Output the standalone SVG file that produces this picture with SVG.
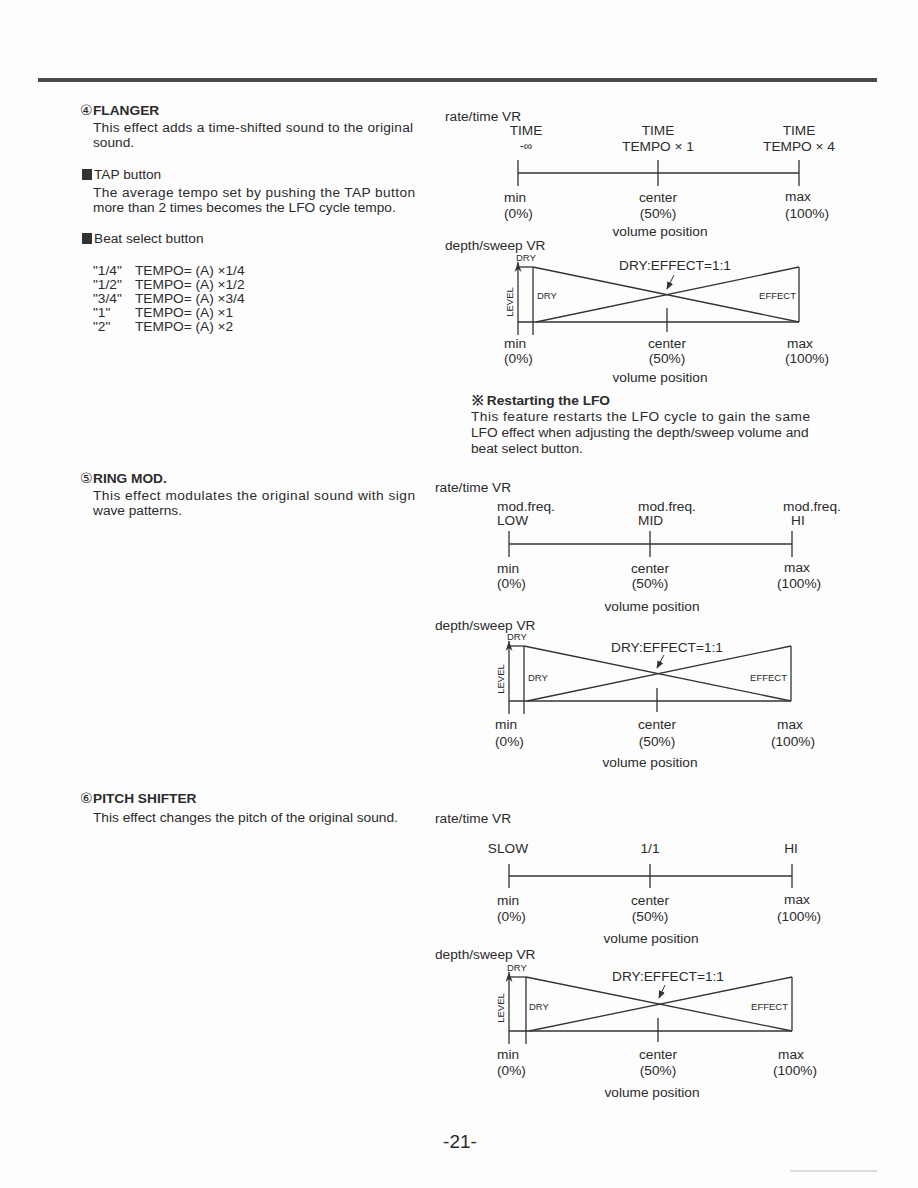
<svg xmlns="http://www.w3.org/2000/svg" width="918" height="1188" viewBox="0 0 918 1188">
<style>
.t{font-family:"Liberation Sans",Arial,sans-serif;font-size:13.7px;fill:#2b2b2b}
.b{font-weight:bold}
.s{font-family:"Liberation Sans",Arial,sans-serif;font-size:9.5px;fill:#2b2b2b}
.c{text-anchor:middle}
.e{text-anchor:end}
.ln{stroke:#333;stroke-width:1.3;fill:none}
.cn{font-family:"DejaVu Sans",sans-serif;font-size:14px;fill:#2b2b2b}
</style>
<defs>
<marker id="ah" viewBox="0 0 10 10" refX="9" refY="5" markerWidth="8" markerHeight="8" orient="auto" markerUnits="userSpaceOnUse">
<path d="M0,1 L10,5 L0,9 z" fill="#333"/>
</marker>
<marker id="lv" viewBox="0 0 10 10" refX="10" refY="5" markerWidth="10" markerHeight="10" orient="auto" markerUnits="userSpaceOnUse">
<path d="M0,1.5 L10,5 L0,8.5 L3,5 z" fill="#333"/>
</marker>
</defs>
<rect width="918" height="1188" fill="#fdfdfd"/>
<rect x="38" y="78" width="839" height="4" fill="#4a4a4a"/>

<g id="flanger-text">
<text class="cn" x="80" y="115">④</text>
<text class="t b" x="93" y="115">FLANGER</text>
<text class="t" x="93" y="132" textLength="320" lengthAdjust="spacing">This effect adds a time-shifted sound to the original</text>
<text class="t" x="93" y="147">sound.</text>
<rect x="82" y="169" width="10" height="11" fill="#333"/>
<text class="t" x="94" y="179">TAP button</text>
<text class="t" x="93" y="197" textLength="322" lengthAdjust="spacing">The average tempo set by pushing the TAP button</text>
<text class="t" x="93" y="212">more than 2 times becomes the LFO cycle tempo.</text>
<rect x="82" y="233" width="10" height="11" fill="#333"/>
<text class="t" x="94" y="243">Beat select button</text>
<text class="t" x="93" y="275">"1/4"</text><text class="t" x="135" y="275">TEMPO= (A) ×1/4</text>
<text class="t" x="93" y="289">"1/2"</text><text class="t" x="135" y="289">TEMPO= (A) ×1/2</text>
<text class="t" x="93" y="303">"3/4"</text><text class="t" x="135" y="303">TEMPO= (A) ×3/4</text>
<text class="t" x="93" y="317">"1"</text><text class="t" x="135" y="317">TEMPO= (A) ×1</text>
<text class="t" x="93" y="331">"2"</text><text class="t" x="135" y="331">TEMPO= (A) ×2</text>
</g>

<g id="flanger-rate">
<text class="t" x="445" y="121">rate/time VR</text>
<text class="t c" x="526" y="135">TIME</text>
<text class="t c" x="526" y="150" style="font-size:12px">-∞</text>
<text class="t c" x="658" y="135">TIME</text>
<text class="t c" x="658" y="151">TEMPO × 1</text>
<text class="t c" x="799" y="135">TIME</text>
<text class="t c" x="799" y="151">TEMPO × 4</text>
<line class="ln" x1="518" y1="160" x2="518" y2="186"/>
<line class="ln" x1="658" y1="160" x2="658" y2="186"/>
<line class="ln" x1="799" y1="160" x2="799" y2="186"/>
<line class="ln" x1="518" y1="173" x2="799" y2="173"/>
<text class="t" x="504" y="202">min</text>
<text class="t" x="504" y="218">(0%)</text>
<text class="t c" x="658" y="202">center</text>
<text class="t c" x="658" y="218">(50%)</text>
<text class="t c" x="798" y="201">max</text>
<text class="t c" x="807" y="218">(100%)</text>
<text class="t c" x="660" y="236">volume position</text>
</g>

<g id="flanger-depth">
<text class="t" x="445" y="250">depth/sweep VR</text>
<g transform="translate(518,322)">
<line class="ln" x1="0" y1="13" x2="0" y2="-60" marker-end="url(#lv)"/>
<line class="ln" x1="0" y1="-55" x2="15" y2="-55"/>
<line class="ln" x1="15" y1="-55" x2="15" y2="13"/>
<line class="ln" x1="0" y1="0" x2="281" y2="0"/>
<line class="ln" x1="15" y1="-55" x2="281" y2="0"/>
<line class="ln" x1="18" y1="0" x2="281" y2="-55"/>
<line class="ln" x1="281" y1="-55" x2="281" y2="0"/>
<line class="ln" x1="149" y1="-14" x2="149" y2="10"/>
<line class="ln" x1="156" y1="-47" x2="149" y2="-33" marker-end="url(#ah)" style="stroke-width:1"/>
<text class="s" x="-2" y="-61">DRY</text>
<text class="s c" transform="translate(-5,-20) rotate(-90)">LEVEL</text>
<text class="s" x="19" y="-23">DRY</text>
<text class="s e" x="278" y="-23">EFFECT</text>
<text class="t c" x="157" y="-52">DRY:EFFECT=1:1</text>
<text class="t" x="-14" y="26">min</text>
<text class="t" x="-14" y="41">(0%)</text>
<text class="t c" x="149" y="26">center</text>
<text class="t c" x="149" y="41">(50%)</text>
<text class="t c" x="282" y="26">max</text>
<text class="t c" x="289" y="41">(100%)</text>
<text class="t c" x="142" y="60">volume position</text>
</g>
</g>

<g id="restart-note">
<text class="t b" x="472" y="405">※ Restarting the LFO</text>
<text class="t" x="471" y="421" textLength="339" lengthAdjust="spacing">This feature restarts the LFO cycle to gain the same</text>
<text class="t" x="471" y="437">LFO effect when adjusting the depth/sweep volume and</text>
<text class="t" x="471" y="453">beat select button.</text>
</g>

<g id="ringmod-text">
<text class="cn" x="80" y="483">⑤</text>
<text class="t b" x="93" y="483">RING MOD.</text>
<text class="t" x="93" y="500" textLength="322" lengthAdjust="spacing">This effect modulates the original sound with sign</text>
<text class="t" x="93" y="515">wave patterns.</text>
</g>

<g id="ringmod-rate">
<text class="t" x="435" y="492">rate/time VR</text>
<text class="t" x="497" y="511">mod.freq.</text>
<text class="t" x="497" y="525">LOW</text>
<text class="t" x="638" y="511">mod.freq.</text>
<text class="t" x="638" y="525">MID</text>
<text class="t" x="783" y="511">mod.freq.</text>
<text class="t" x="791" y="525">HI</text>
<line class="ln" x1="509" y1="531" x2="509" y2="557"/>
<line class="ln" x1="650" y1="531" x2="650" y2="557"/>
<line class="ln" x1="792" y1="531" x2="792" y2="557"/>
<line class="ln" x1="509" y1="544" x2="792" y2="544"/>
<text class="t" x="497" y="573">min</text>
<text class="t" x="497" y="588">(0%)</text>
<text class="t c" x="650" y="573">center</text>
<text class="t c" x="650" y="588">(50%)</text>
<text class="t" x="784" y="572">max</text>
<text class="t" x="777" y="588">(100%)</text>
<text class="t c" x="652" y="611">volume position</text>
</g>

<g id="ringmod-depth">
<text class="t" x="435" y="630">depth/sweep VR</text>
<g transform="translate(509,701)">
<line class="ln" x1="0" y1="13" x2="0" y2="-60" marker-end="url(#lv)"/>
<line class="ln" x1="0" y1="-55" x2="15" y2="-55"/>
<line class="ln" x1="15" y1="-55" x2="15" y2="13"/>
<line class="ln" x1="0" y1="0" x2="282" y2="0"/>
<line class="ln" x1="15" y1="-55" x2="282" y2="0"/>
<line class="ln" x1="18" y1="0" x2="282" y2="-55"/>
<line class="ln" x1="282" y1="-55" x2="282" y2="0"/>
<line class="ln" x1="148" y1="-13" x2="148" y2="11"/>
<line class="ln" x1="155" y1="-46" x2="148" y2="-33" marker-end="url(#ah)" style="stroke-width:1"/>
<text class="s" x="-2" y="-61">DRY</text>
<text class="s c" transform="translate(-5,-22) rotate(-90)">LEVEL</text>
<text class="s" x="19" y="-20">DRY</text>
<text class="s e" x="278" y="-20">EFFECT</text>
<text class="t c" x="158" y="-49">DRY:EFFECT=1:1</text>
<text class="t" x="-14" y="28">min</text>
<text class="t" x="-14" y="45">(0%)</text>
<text class="t c" x="148" y="28">center</text>
<text class="t c" x="148" y="45">(50%)</text>
<text class="t c" x="281" y="28">max</text>
<text class="t c" x="284" y="45">(100%)</text>
<text class="t c" x="141" y="66">volume position</text>
</g>
</g>

<g id="pitch-text">
<text class="cn" x="80" y="803">⑥</text>
<text class="t b" x="93" y="803">PITCH SHIFTER</text>
<text class="t" x="93" y="822">This effect changes the pitch of the original sound.</text>
</g>

<g id="pitch-rate">
<text class="t" x="435" y="823">rate/time VR</text>
<text class="t c" x="508" y="853">SLOW</text>
<text class="t c" x="650" y="853">1/1</text>
<text class="t c" x="791" y="853">HI</text>
<line class="ln" x1="509" y1="864" x2="509" y2="888"/>
<line class="ln" x1="650" y1="864" x2="650" y2="888"/>
<line class="ln" x1="792" y1="864" x2="792" y2="888"/>
<line class="ln" x1="509" y1="876" x2="792" y2="876"/>
<text class="t" x="497" y="905">min</text>
<text class="t" x="497" y="921">(0%)</text>
<text class="t c" x="650" y="905">center</text>
<text class="t c" x="650" y="921">(50%)</text>
<text class="t" x="784" y="904">max</text>
<text class="t" x="777" y="921">(100%)</text>
<text class="t c" x="651" y="943">volume position</text>
</g>

<g id="pitch-depth">
<text class="t" x="435" y="959">depth/sweep VR</text>
<g transform="translate(509,1031)">
<line class="ln" x1="0" y1="13" x2="0" y2="-59" marker-end="url(#lv)"/>
<line class="ln" x1="0" y1="-54" x2="17" y2="-54"/>
<line class="ln" x1="17" y1="-54" x2="17" y2="13"/>
<line class="ln" x1="0" y1="0" x2="283" y2="0"/>
<line class="ln" x1="17" y1="-54" x2="283" y2="0"/>
<line class="ln" x1="20" y1="0" x2="283" y2="-54"/>
<line class="ln" x1="283" y1="-54" x2="283" y2="0"/>
<line class="ln" x1="149" y1="-13" x2="149" y2="11"/>
<line class="ln" x1="156" y1="-46" x2="150" y2="-33" marker-end="url(#ah)" style="stroke-width:1"/>
<text class="s" x="-2" y="-60">DRY</text>
<text class="s c" transform="translate(-5,-23) rotate(-90)">LEVEL</text>
<text class="s" x="20" y="-21">DRY</text>
<text class="s e" x="279" y="-21">EFFECT</text>
<text class="t c" x="159" y="-50">DRY:EFFECT=1:1</text>
<text class="t" x="-12" y="28">min</text>
<text class="t" x="-12" y="44">(0%)</text>
<text class="t c" x="149" y="28">center</text>
<text class="t c" x="149" y="44">(50%)</text>
<text class="t c" x="282" y="28">max</text>
<text class="t c" x="286" y="44">(100%)</text>
<text class="t c" x="143" y="66">volume position</text>
</g>
</g>

<text class="t c" x="460" y="1148" style="font-size:19px">-21-</text>
<line x1="790" y1="1171" x2="877" y2="1171" stroke="#bbb" stroke-width="1"/>
</svg>
